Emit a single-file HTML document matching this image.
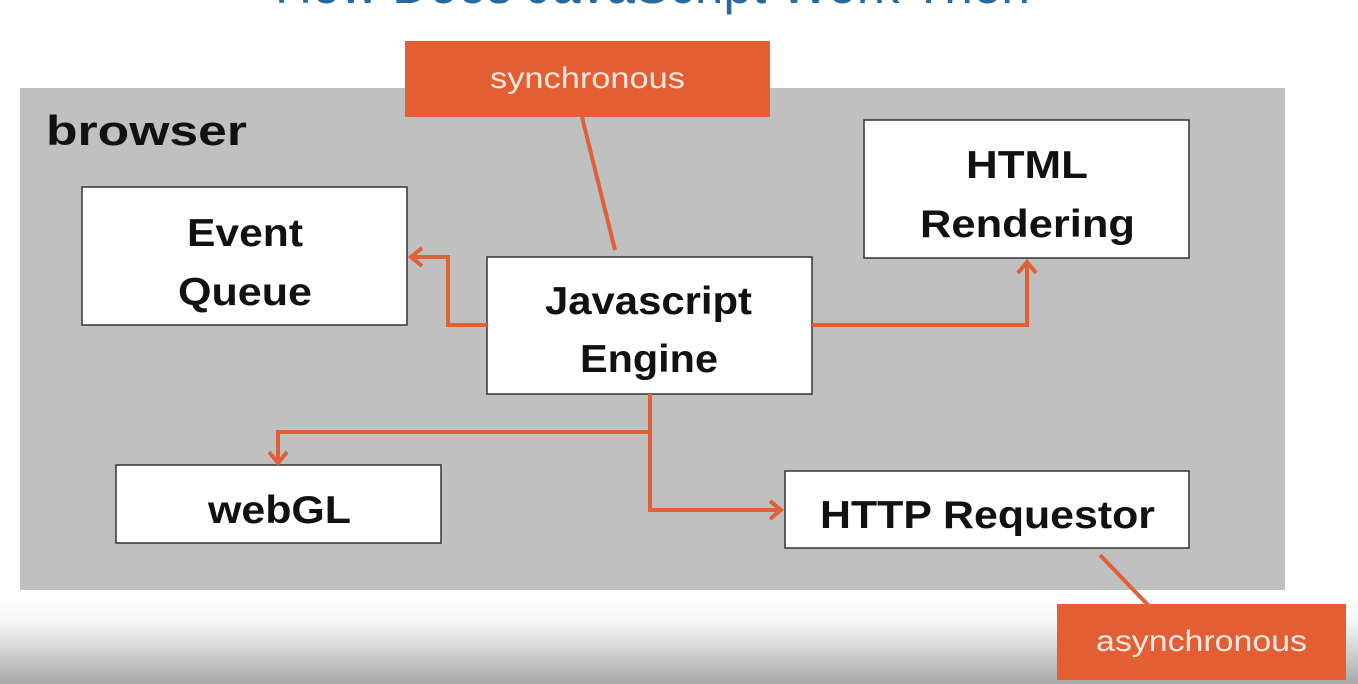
<!DOCTYPE html>
<html><head><style>
html,body{margin:0;padding:0;width:1358px;height:684px;overflow:hidden;background:#fff}
svg{display:block}
text{font-family:"Liberation Sans",sans-serif}
</style></head><body>
<svg width="1358" height="684" viewBox="0 0 1358 684" xmlns="http://www.w3.org/2000/svg">
<defs>
<linearGradient id="g" x1="0" y1="0" x2="0" y2="1">
<stop offset="0" stop-color="#ffffff"/>
<stop offset="0.3" stop-color="#f6f6f6"/>
<stop offset="1" stop-color="#a8a8a8"/>
</linearGradient>
</defs>
<rect x="0" y="596" width="1358" height="88" fill="url(#g)"/>
<text x="275" y="3" font-size="56" fill="#2a6a9a" textLength="755" lengthAdjust="spacingAndGlyphs">How Does JavaScript Work Then</text>
<rect x="20" y="88" width="1265" height="502" fill="#c0c0c0"/>
<text x="46" y="145" font-size="42" font-weight="bold" fill="#111" textLength="201" lengthAdjust="spacingAndGlyphs">browser</text>

<g fill="#fff" stroke="#333" stroke-width="1.5">
<rect x="82" y="187" width="325" height="138"/>
<rect x="487" y="257" width="325" height="137"/>
<rect x="864" y="120" width="325" height="138"/>
<rect x="116" y="465" width="325" height="78"/>
<rect x="785" y="471" width="404" height="77"/>
</g>
<g font-size="39" font-weight="bold" fill="#111">
<text x="187" y="246" textLength="116" lengthAdjust="spacingAndGlyphs">Event</text>
<text x="178" y="305" textLength="134" lengthAdjust="spacingAndGlyphs">Queue</text>
<text x="545" y="314" textLength="207" lengthAdjust="spacingAndGlyphs">Javascript</text>
<text x="580" y="372" textLength="138" lengthAdjust="spacingAndGlyphs">Engine</text>
<text x="966" y="178" textLength="122" lengthAdjust="spacingAndGlyphs">HTML</text>
<text x="920" y="237" textLength="215" lengthAdjust="spacingAndGlyphs">Rendering</text>
<text x="208" y="523" textLength="143" lengthAdjust="spacingAndGlyphs">webGL</text>
<text x="820" y="528" textLength="335" lengthAdjust="spacingAndGlyphs">HTTP Requestor</text>
</g>

<g fill="none" stroke="#e06038" stroke-width="4">
<polyline points="487,325 448,325 448,257 411,257"/>
<polyline points="422,248 411,257 422,266"/>
<polyline points="812,325 1027,325 1027,262"/>
<polyline points="1018,273 1027,262 1036,273"/>
<polyline points="650,394 650,432 278,432 278,462"/>
<polyline points="269,452 278,463 287,452"/>
<polyline points="650,432 650,510 781,510"/>
<polyline points="770,501 781,510 770,519"/>
<line x1="582" y1="117" x2="615" y2="250"/>
<line x1="1100" y1="555" x2="1148" y2="605"/>
</g>

<rect x="405" y="41" width="365" height="76" fill="#e35f33"/>
<text x="490" y="88" font-size="30" fill="#fbe9e2" textLength="195" lengthAdjust="spacingAndGlyphs">synchronous</text>
<rect x="1057" y="604" width="289" height="76" fill="#e35f33"/>
<text x="1096" y="651" font-size="30" fill="#fbe9e2" textLength="211" lengthAdjust="spacingAndGlyphs">asynchronous</text>
</svg>
</body></html>
